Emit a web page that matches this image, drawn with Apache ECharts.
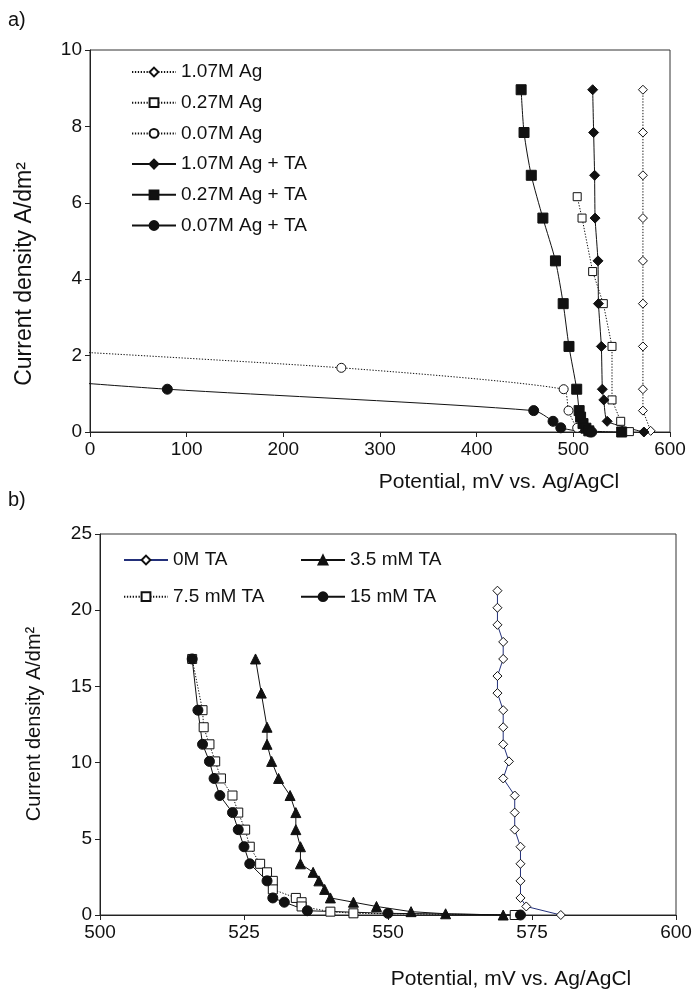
<!DOCTYPE html>
<html><head><meta charset="utf-8">
<script src="https://cdn.jsdelivr.net/npm/echarts@6/dist/echarts.min.js"></script>
<style>html,body{margin:0;padding:0;background:#fff}#c{width:695px;height:991px}</style>
</head><body><div id="c"></div>
<script>
// ---- Panel a data: [potential mV, current density A/dm2] ----
const namesA = ['1.07M Ag', '0.27M Ag', '0.07M Ag', '1.07M Ag + TA', '0.27M Ag + TA', '0.07M Ag + TA'];
const a107Ag = [[572,8.96],[572,7.84],[572,6.72],[572,5.6],[572,4.48],[572,3.36],[572,2.24],[572,1.12],[572,0.56],[580,0.03]];
const a027Ag = [[504,6.16],[509,5.6],[520,4.2],[531,3.36],[540,2.24],[540,0.84],[549,0.28],[558,0.01]];
const a007Ag = [[-100,2.22],[260,1.68],[490,1.12],[495,0.56],[504,0.11],[518,0]];
const a107AgTA = [[520,8.96],[521,7.84],[522,6.72],[522.5,5.6],[525.5,4.48],[526,3.36],[529,2.24],[530,1.12],[531.5,0.84],[535,0.28],[573,0]];
const a027AgTA = [[446,8.96],[449,7.84],[456.5,6.72],[468.5,5.6],[481.5,4.48],[489.5,3.36],[495.5,2.24],[503.5,1.12],[506,0.56],[507.5,0.39],[510,0.22],[513,0.1],[516,0.03],[550,0]];
const a007AgTA = [[-100,1.46],[80,1.12],[459,0.56],[479,0.28],[487,0.11],[517,0],[519,0]];

// ---- Panel b data ----
const namesB = ['0M TA', '3.5 mM TA', '7.5 mM TA', '15 mM TA'];
const b0 = [[569,21.28],[569,20.16],[569,19.04],[570,17.92],[570,16.8],[569,15.68],[569,14.56],[570,13.44],[570,12.32],[570,11.2],[571,10.08],[570,8.96],[572,7.84],[572,6.72],[572,5.6],[573,4.48],[573,3.36],[573,2.24],[573,1.12],[574,0.56],[580,0]];
const b35 = [[527,16.8],[528,14.56],[529,12.32],[529,11.2],[529.8,10.08],[531,8.96],[533,7.84],[534,6.72],[534,5.6],[534.8,4.48],[534.8,3.36],[537,2.8],[538,2.24],[539,1.68],[540,1.12],[544,0.84],[548,0.56],[554,0.22],[560,0.08],[570,0]];
const b75 = [[516,16.8],[517.8,13.44],[518,12.32],[519,11.2],[520,10.08],[521,8.96],[523,7.84],[524,6.72],[525.2,5.6],[526,4.48],[527.8,3.36],[529,2.8],[530,2.24],[530,1.68],[534,1.12],[535,0.84],[535,0.56],[540,0.22],[544,0.11],[572,0]];
const b15 = [[516,16.8],[517,13.44],[517.8,11.2],[519,10.08],[519.8,8.96],[520.8,7.84],[523,6.72],[524,5.6],[525,4.48],[526,3.36],[529,2.24],[530,1.12],[532,0.84],[536,0.28],[550,0.11],[573,0]];

const FONT = 'Liberation Sans, Arial, sans-serif';
const TXT = '#111';

function mk(name, data, gi, symbol, size, filled, dotted, lineColor, smooth) {
  return {
    type: 'line', name: name, data: data, xAxisIndex: gi, yAxisIndex: gi,
    symbol: symbol, symbolSize: size, smooth: smooth || false, clip: true,
    showAllSymbol: true, animation: false,
    lineStyle: { color: lineColor || '#111', width: 1, type: dotted ? [1.3, 1.6] : 'solid' },
    itemStyle: { color: filled ? '#111' : '#fff', borderColor: '#111', borderWidth: 1 },
    emphasis: { disabled: true }
  };
}

function axisCommon(min, max, interval) {
  return {
    type: 'value', min: min, max: max, interval: interval,
    axisLine: { show: true, onZero: false, lineStyle: { color: '#222', width: 1 } },
    axisTick: { show: true, inside: false, length: 5, lineStyle: { color: '#222' } },
    axisLabel: { fontSize: 19, color: TXT, fontFamily: FONT, margin: 8 },
    splitLine: { show: false }
  };
}

const legendText = { fontSize: 19, color: TXT, fontFamily: FONT, lineHeight: 20 };

const option = {
  backgroundColor: '#fff',
  animation: false,
  grid: [
    { left: 90, top: 50, width: 580, height: 382, show: true, borderColor: '#333', borderWidth: 1, backgroundColor: 'transparent', outerBoundsMode: 'none' },
    { left: 100, top: 534, width: 576, height: 381, show: true, borderColor: '#333', borderWidth: 1, backgroundColor: 'transparent', outerBoundsMode: 'none' }
  ],
  xAxis: [
    Object.assign(axisCommon(0, 600, 100), { gridIndex: 0 }),
    Object.assign(axisCommon(500, 600, 25), { gridIndex: 1 })
  ],
  yAxis: [
    Object.assign(axisCommon(0, 10, 2), { gridIndex: 0 }),
    Object.assign(axisCommon(0, 25, 5), { gridIndex: 1 })
  ],
  legend: [
    { data: namesA, orient: 'vertical', left: 131, top: 62, itemWidth: 44, itemHeight: 11, itemGap: 10.7, padding: 0, selectedMode: false, textStyle: legendText },
    { data: [namesB[0], namesB[2]], orient: 'vertical', left: 123, top: 550, itemWidth: 44, itemHeight: 11, itemGap: 16.7, padding: 0, selectedMode: false, textStyle: legendText },
    { data: [namesB[1], namesB[3]], orient: 'vertical', left: 300, top: 550, itemWidth: 44, itemHeight: 11, itemGap: 16.7, padding: 0, selectedMode: false, textStyle: legendText }
  ],
  series: [
    mk(namesA[0], a107Ag, 0, 'diamond', 9, false, true),
    mk(namesA[1], a027Ag, 0, 'rect', 8, false, true),
    mk(namesA[2], a007Ag, 0, 'circle', 9, false, true, null, 0.2),
    mk(namesA[3], a107AgTA, 0, 'diamond', 10, true, false, null, 0.15),
    mk(namesA[4], a027AgTA, 0, 'rect', 10, true, false, null, 0.25),
    mk(namesA[5], a007AgTA, 0, 'circle', 10, true, false, null, 0.25),
    mk(namesB[0], b0, 1, 'diamond', 9, false, false, '#23307a'),
    mk(namesB[1], b35, 1, 'triangle', 10, true, false),
    mk(namesB[2], b75, 1, 'rect', 9, false, true),
    mk(namesB[3], b15, 1, 'circle', 10, true, false)
  ],
  graphic: [
    { type: 'text', left: 8, top: 10, style: { text: 'a)', fontSize: 20, fill: TXT, fontFamily: FONT } },
    { type: 'text', left: 8, top: 490, style: { text: 'b)', fontSize: 20, fill: TXT, fontFamily: FONT } },
    { type: 'text', x: 25, y: 274, rotation: Math.PI / 2, style: { text: 'Current density A/dm²', fontSize: 23, fill: TXT, fontFamily: FONT, align: 'center', verticalAlign: 'middle' } },
    { type: 'text', x: 34, y: 724, rotation: Math.PI / 2, style: { text: 'Current density A/dm²', fontSize: 20, fill: TXT, fontFamily: FONT, align: 'center', verticalAlign: 'middle' } },
    { type: 'text', x: 499, y: 482, style: { text: 'Potential, mV vs. Ag/AgCl', fontSize: 21, fill: TXT, fontFamily: FONT, align: 'center', verticalAlign: 'middle' } },
    { type: 'text', x: 511, y: 979, style: { text: 'Potential, mV vs. Ag/AgCl', fontSize: 21, fill: TXT, fontFamily: FONT, align: 'center', verticalAlign: 'middle' } }
  ]
};

const chart = echarts.init(document.getElementById('c'), null, { renderer: 'canvas' });
chart.setOption(option);
</script>
</body></html>
